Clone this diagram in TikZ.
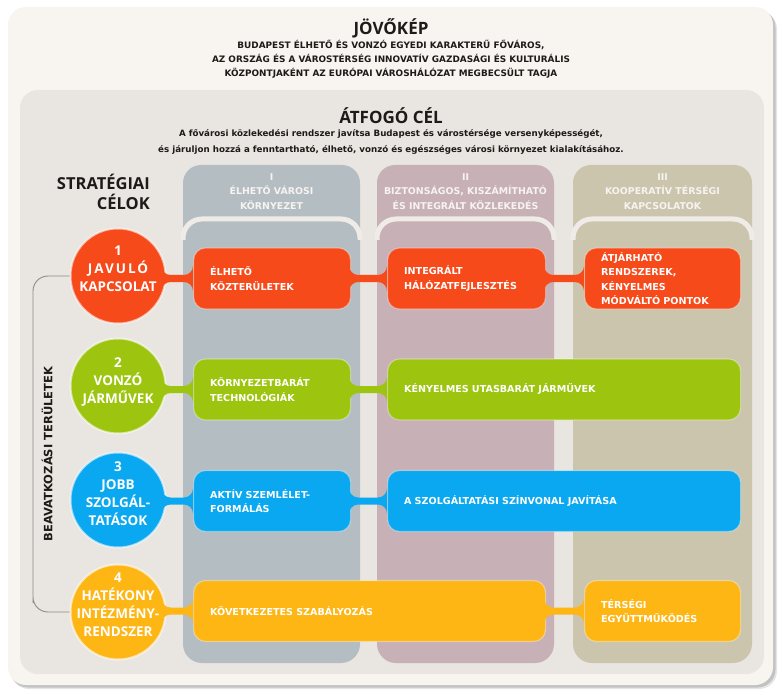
\documentclass[tikz,border=0pt]{standalone}
\usepackage{fontspec}
\setmainfont{Open Sans}
\newfontfamily\smallf{DejaVu Sans}
\usetikzlibrary{calc,shadows}
\definecolor{cardbg}{HTML}{F8F5F1}
\definecolor{panelbg}{HTML}{E9E5E1}
\definecolor{colI}{HTML}{B4BDC2}
\definecolor{colII}{HTML}{C8B0B7}
\definecolor{colIII}{HTML}{CCC5AD}
\definecolor{sepc}{HTML}{EFEBE7}
\definecolor{cred}{HTML}{F64A1A}
\definecolor{cgreen}{HTML}{9DC50F}
\definecolor{cblue}{HTML}{09A8F0}
\definecolor{corange}{HTML}{FDB614}
\definecolor{ink}{HTML}{1E1A18}
\definecolor{hdtxt}{HTML}{F6F3F0}
\definecolor{brk}{HTML}{8E8A88}
\def\nh{3.5pt}
\def\nf{9pt}
% neck connector: #1 start point, #2 end point (its y is used), #3 colour
\newcommand\necklink[3]{%
  \fill[#3] let \p1=(#1), \p2=(#2) in
    (\x1,\y2+\nh+\nf) to[out=-90,in=180] (\x1+\nf,\y2+\nh) -- (\x2-\nf,\y2+\nh)
    to[out=0,in=-90] (\x2,\y2+\nh+\nf) -- (\x2,\y2-\nh-\nf)
    to[out=90,in=0] (\x2-\nf,\y2-\nh) -- (\x1+\nf,\y2-\nh)
    to[out=180,in=90] (\x1,\y2-\nh-\nf) -- cycle;}
\tikzset{
  bar/.style={rounded corners=12pt, anchor=west, inner xsep=16.5pt, inner ysep=0pt,
    minimum height=61pt, text=white, align=left, draw=white, draw opacity=0.35, line width=1.2pt,
    font=\smallf\bfseries\fontsize{9.6}{14.5}\selectfont, text width=#1},
  circ/.style={circle, minimum size=95pt, inner sep=0pt, draw=white, draw opacity=0.6, line width=2pt},
  circtxt/.style={text=white, align=center, font=\bfseries\fontsize{13.5}{18}\selectfont, inner sep=0pt},
  colhd/.style={text=hdtxt, align=center, font=\smallf\bfseries\fontsize{9.4}{14.5}\selectfont, inner sep=0pt},
  sepline/.style={sepc, line width=5pt, rounded corners=19pt},
}
\begin{document}
\begin{tikzpicture}[x=1pt,y=-1pt]
\useasboundingbox (0,0) rectangle (782,695);
\fill[white] (0,0) rectangle (782,695);
% card
\fill[black, opacity=0.10, rounded corners=18pt] (11,11) rectangle (777,689);
\fill[black, opacity=0.15, rounded corners=18pt] (10,9.5) rectangle (775.5,687.5);
\fill[cardbg, rounded corners=18pt] (8,7) rectangle (773,685);
\fill[panelbg, rounded corners=18pt] (20,90) rectangle (764,674);

% vision
\node[font=\bfseries\fontsize{17}{20}\selectfont, text=ink, inner sep=0pt] (vision) at (391,28) {JÖVŐKÉP};
\node[font=\smallf\bfseries\fontsize{8.9}{14}\selectfont, text=ink, align=center, inner sep=0pt] (visiontxt) at (391,59)
  {BUDAPEST ÉLHETŐ ÉS VONZÓ EGYEDI KARAKTERŰ FŐVÁROS,\\
   AZ ORSZÁG ÉS A VÁROSTÉRSÉG INNOVATÍV GAZDASÁGI ÉS KULTURÁLIS\\
   KÖZPONTJAKÉNT AZ EURÓPAI VÁROSHÁLÓZAT MEGBECSÜLT TAGJA};
% overall goal
\node[font=\bfseries\fontsize{17}{20}\selectfont, text=ink, inner sep=0pt] (goal) at (391,116) {ÁTFOGÓ CÉL};
\node[font=\smallf\bfseries\fontsize{8.7}{16}\selectfont, text=ink, align=center, inner sep=0pt] (goaltxt) at (391,142)
  {A fővárosi közlekedési rendszer javítsa Budapest és várostérsége versenyképességét,\\
   és járuljon hozzá a fenntartható, élhető, vonzó és egészséges városi környezet kialakításához.};

% strategic goals title
\node[font=\bfseries\fontsize{16.5}{20}\selectfont, text=ink, align=right, inner sep=0pt, anchor=east] (strat) at (150,192)
  {STRATÉGIAI\\CÉLOK};

% columns
\foreach \xa/\xb/\cc in {183/360/colI, 377/554/colII, 573/752/colIII}{
  \fill[\cc, rounded corners=18pt] (\xa,165) rectangle (\xb,250);
  \fill[\cc, rounded corners=19pt] (\xa,219) rectangle (\xb,663);
  \draw[sepline] (\xa,240) |- (\xb,219) -- (\xb,240);
}
\node[colhd] (h1) at (271.5,191.5) {I\\ÉLHETŐ VÁROSI\\KÖRNYEZET};
\node[colhd] (h2) at (465.5,191.5) {II\\BIZTONSÁGOS, KISZÁMÍTHATÓ\\ÉS INTEGRÁLT KÖZLEKEDÉS};
\node[colhd] (h3) at (662.5,191.5) {III\\KOOPERATÍV TÉRSÉGI\\KAPCSOLATOK};

% circles
\node[circ, fill=cred] (c1) at (118,276) {};
\node[circ, fill=cgreen] (c2) at (118,386) {};
\node[circ, fill=cblue] (c3) at (118,500) {};
\node[circ, fill=corange] (c4) at (118,612) {};

% bracket
\draw[brk, line width=0.9pt, rounded corners=15pt] (c1.west) -| (33,612) |- (c4.west);
\node[font=\smallf\bfseries\fontsize{11.5}{14}\selectfont, text=ink, rotate=90, inner sep=0pt] (area) at (47,454) {BEAVATKOZÁSI TERÜLETEK};

% bars
\node[bar=124pt, fill=cred] (b11) at (193,278.5) {ÉLHETŐ\\KÖZTERÜLETEK};
\node[bar=125pt, fill=cred] (b12) at (387,278.5) {INTEGRÁLT\\HÁLÓZATFEJLESZTÉS};
\node[bar=123pt, fill=cred] (b13) at (584,278.5) {ÁTJÁRHATÓ\\RENDSZEREK,\\KÉNYELMES\\MÓDVÁLTÓ PONTOK};

\node[bar=124pt, fill=cgreen] (b21) at (193,389.5) {KÖRNYEZETBARÁT\\TECHNOLÓGIÁK};
\node[bar=320pt, fill=cgreen] (b22) at (387,389.5) {KÉNYELMES UTASBARÁT JÁRMŰVEK};

\node[bar=124pt, fill=cblue] (b31) at (193,501) {AKTÍV SZEMLÉLET-\\FORMÁLÁS};
\node[bar=320pt, fill=cblue] (b32) at (387,501) {A SZOLGÁLTATÁSI SZÍNVONAL JAVÍTÁSA};

\node[bar=319pt, fill=corange] (b41) at (193,611) {KÖVETKEZETES SZABÁLYOZÁS};
\node[bar=123pt, fill=corange] (b42) at (584,611) {TÉRSÉGI\\EGYÜTTMŰKÖDÉS};

% necks
\necklink{$(c1.east)+(-5,0)$}{b11.west}{cred}
\necklink{$(b11.east)+(-2,0)$}{b12.west}{cred}
\necklink{$(b12.east)+(-2,0)$}{b13.west}{cred}
\necklink{$(c2.east)+(-5,0)$}{b21.west}{cgreen}
\necklink{$(b21.east)+(-2,0)$}{b22.west}{cgreen}
\necklink{$(c3.east)+(-5,0)$}{b31.west}{cblue}
\necklink{$(b31.east)+(-2,0)$}{b32.west}{cblue}
\necklink{$(c4.east)+(-5,0)$}{b41.west}{corange}
\necklink{$(b41.east)+(-2,0)$}{b42.west}{corange}

% circle texts
\node[circtxt] (t1) at ([yshift=7pt]c1.center) {1\\{\addfontfeatures{LetterSpace=15}JAVULÓ}\\KAPCSOLAT};
\node[circtxt] (t2) at ([yshift=4pt]c2.center) {2\\VONZÓ\\JÁRMŰVEK};
\node[circtxt] (t3) at ([yshift=6.5pt]c3.center) {3\\JOBB\\SZOLGÁL-\\TATÁSOK};
\node[circtxt] (t4) at ([yshift=7pt]c4.center) {4\\HATÉKONY\\INTÉZMÉNY-\\RENDSZER};
\end{tikzpicture}
\end{document}
